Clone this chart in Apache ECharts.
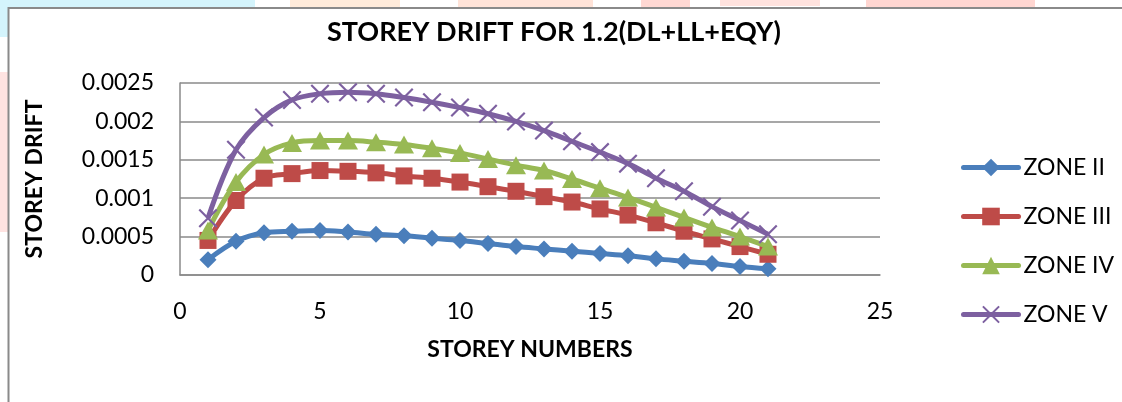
<!DOCTYPE html>
<html>
<head>
<meta charset="utf-8">
<script src="https://cdn.jsdelivr.net/npm/echarts@6/dist/echarts.min.js"></script>
<style>
html,body{margin:0;padding:0;background:#fff;}
#chart{width:1122px;height:402px;}
</style>
</head>
<body>
<div id="chart"></div>
<script>
const titleText = 'STOREY DRIFT FOR 1.2(DL+LL+EQY)';
const xAxisTitle = 'STOREY NUMBERS';
const yAxisTitle = 'STOREY DRIFT';
const seriesNames = ['ZONE II', 'ZONE III', 'ZONE IV', 'ZONE V'];
const storeys = [1, 2, 3, 4, 5, 6, 7, 8, 9, 10, 11, 12, 13, 14, 15, 16, 17, 18, 19, 20, 21];
const zoneII  = [0.00020,0.00044,0.00055,0.00057,0.00058,0.00056,0.00053,0.00051,0.00048,0.00045,0.00041,0.00037,0.00034,0.00031,0.00028,0.00025,0.00021,0.00018,0.00015,0.00011,0.00008];
const zoneIII = [0.00045,0.00097,0.00126,0.00132,0.00136,0.00135,0.00133,0.00129,0.00126,0.00121,0.00115,0.00109,0.00102,0.00095,0.00086,0.00078,0.00068,0.00057,0.00047,0.00037,0.00027];
const zoneIV  = [0.00058,0.00121,0.00157,0.00172,0.00175,0.00175,0.00173,0.00170,0.00165,0.00159,0.00151,0.00143,0.00136,0.00125,0.00113,0.00101,0.00088,0.00075,0.00062,0.00050,0.00037];
const zoneV   = [0.00074,0.00163,0.00205,0.00228,0.00236,0.00238,0.00236,0.00231,0.00225,0.00218,0.00210,0.00200,0.00188,0.00174,0.00160,0.00145,0.00126,0.00109,0.00089,0.00071,0.00053];

const FONT = 'Lato, "Liberation Sans", sans-serif';
const colors = ['#4A7EBB', '#BE4B48', '#98B954', '#7D60A0'];
const xPath = 'path://M0,1.6 L1.6,0 L10,8.4 L18.4,0 L20,1.6 L11.6,10 L20,18.4 L18.4,20 L10,11.6 L1.6,20 L0,18.4 L8.4,10 Z';
const symbols = ['diamond', 'rect', 'triangle', xPath];
const symbolSizes = [17, 17, [20, 18], 19];
const allData = [zoneII, zoneIII, zoneIV, zoneV];

function pairs(arr){ return storeys.map((s, i) => [s, arr[i]]); }

const chart = echarts.init(document.getElementById('chart'), null, {renderer: 'canvas'});
const option = {
  animation: false,
  backgroundColor: '#ffffff',
  color: colors,
  graphic: [
    {type:'rect', shape:{x:0,y:0,width:255,height:8}, style:{fill:'#D4F4FC'}, silent:true},
    {type:'rect', shape:{x:290,y:0,width:110,height:8}, style:{fill:'#FFEBDA'}, silent:true},
    {type:'rect', shape:{x:458,y:0,width:135,height:8}, style:{fill:'#FFE3D8'}, silent:true},
    {type:'rect', shape:{x:641,y:0,width:49,height:8}, style:{fill:'#FFD8D3'}, silent:true},
    {type:'rect', shape:{x:720,y:0,width:100,height:6}, style:{fill:'#FFE2DE'}, silent:true},
    {type:'rect', shape:{x:866,y:0,width:169,height:8}, style:{fill:'#FFD6D1'}, silent:true},
    {type:'rect', shape:{x:0,y:0,width:8,height:37}, style:{fill:'#D4F4FC'}, silent:true},
    {type:'rect', shape:{x:0,y:72,width:8,height:160}, style:{fill:'#FFE3E1'}, silent:true},
    {type:'rect', shape:{x:8.5,y:8,width:1200,height:500}, style:{fill:'none', stroke:'#8A8A8A', lineWidth:2}, silent:true}
  ],
  title: {
    text: titleText,
    left: 322,
    top: 14,
    textStyle: {fontFamily: FONT, fontSize: 27, fontWeight: 'bold', color: '#000'}
  },
  legend: {
    orient: 'vertical',
    left: 956,
    top: 151,
    itemWidth: 55,
    itemHeight: 22,
    itemGap: 26,
    data: seriesNames,
    lineStyle: {width: 5, cap: 'round'},
    textStyle: {fontFamily: FONT, fontSize: 23, color: '#000'}
  },
  grid: {left: 180, right: 242, top: 83, bottom: 127, containLabel: false},
  xAxis: {
    type: 'value',
    min: 0, max: 25, interval: 5,
    name: xAxisTitle,
    nameLocation: 'middle',
    nameGap: 63,
    nameTextStyle: {fontFamily: FONT, fontSize: 23, fontWeight: 'bold', color: '#000'},
    axisLine: {show: true, lineStyle: {color: '#8A8A8A', width: 1.5}},
    axisTick: {show: false},
    axisLabel: {margin: 25, fontFamily: FONT, fontSize: 23, color: '#000'},
    splitLine: {show: false}
  },
  yAxis: {
    type: 'value',
    min: 0, max: 0.0025, interval: 0.0005,
    name: yAxisTitle,
    nameLocation: 'middle',
    nameGap: 134,
    nameRotate: 90,
    nameTextStyle: {fontFamily: FONT, fontSize: 23, fontWeight: 'bold', color: '#000'},
    axisLine: {show: true, lineStyle: {color: '#8A8A8A', width: 1.5}},
    axisTick: {show: false},
    axisLabel: {
      margin: 26, fontFamily: FONT, fontSize: 23, color: '#000',
      formatter: v => v === 0 ? '0' : String(+v.toFixed(4))
    },
    splitLine: {show: true, lineStyle: {color: '#8A8A8A', width: 1.5}}
  },
  series: allData.map((d, i) => ({
    name: seriesNames[i],
    type: 'line',
    data: pairs(d),
    smooth: 0.35,
    symbol: symbols[i],
    symbolSize: symbolSizes[i],
    lineStyle: {width: 5, color: colors[i]},
    itemStyle: {color: colors[i], borderWidth: 0},
    z: 2 + i
  }))
};
chart.setOption(option);
</script>
</body>
</html>
